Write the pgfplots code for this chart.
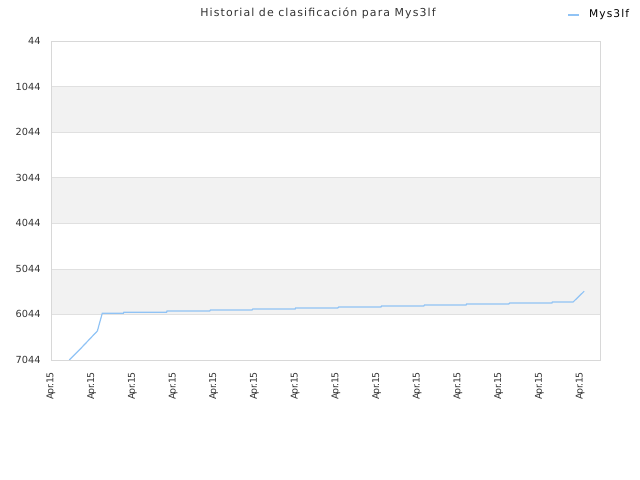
\documentclass[border=0pt]{standalone}
\usepackage{pgfplots}
\pgfplotsset{compat=1.18}
\usepackage{fontspec}
\setmainfont{DejaVu Sans}
\newfontfamily\spaced[LetterSpace=10]{DejaVu Sans}
\newfontfamily\tight[LetterSpace=-6]{DejaVu Sans}
\definecolor{rankline}{RGB}{144,195,245}
\definecolor{band}{RGB}{242,242,242}
\definecolor{gridc}{RGB}{224,224,224}
\definecolor{frame}{RGB}{216,216,216}
\definecolor{txt}{RGB}{51,51,51}
\begin{document}
\begin{tikzpicture}
\begin{axis}[
    set layers,
    scale only axis,
    width=549bp, height=319bp,
    at={(51bp,120bp)}, anchor=south west,
    xmin=0, xmax=13.49,
    ymin=44, ymax=7044,
    y dir=reverse,
    ytick={44,1044,2044,3044,4044,5044,6044,7044},
    xtick={0,...,13},
    xticklabels={Apr.15,Apr.15,Apr.15,Apr.15,Apr.15,Apr.15,Apr.15,Apr.15,Apr.15,Apr.15,Apr.15,Apr.15,Apr.15,Apr.15},
    x tick label style={rotate=90, anchor=east, font=\fontsize{9.4}{11}\selectfont\tight, text=txt},
    y tick label style={font=\fontsize{9.8}{11}\selectfont, text=txt},
    xticklabel shift=9bp,
    yticklabel shift=7bp,
    /pgf/number format/assume math mode=true,
    yticklabel={\pgfmathprintnumber[fixed,1000 sep={}]{\tick}},
    major tick length=0pt,
    ymajorgrids,
    grid style={draw=gridc, line width=0.6pt},
    axis line style={draw=frame, line width=0.8pt},
]
\begin{pgfonlayer}{axis background}
\fill[band] (axis cs:0,1044) rectangle (axis cs:13.49,2044);
\fill[band] (axis cs:0,3044) rectangle (axis cs:13.49,4044);
\fill[band] (axis cs:0,5044) rectangle (axis cs:13.49,6044);
\end{pgfonlayer}
\addplot[rankline, line width=1.2pt, mark=none] coordinates {
(0.45,7044) (0.75,6773) (1.14,6407) (1.18,6275) (1.26,6018) (1.78,6018)
(1.79,5996) (2.84,5996) (2.85,5968) (3.90,5968) (3.92,5946) (4.94,5946)
(4.96,5924) (6.00,5924) (6.01,5902) (7.05,5902) (7.07,5880) (8.11,5880)
(8.12,5858) (9.16,5858) (9.18,5836) (10.20,5836) (10.21,5814) (11.25,5814)
(11.27,5792) (12.31,5792) (12.32,5770) (12.83,5770) (13.10,5536)
};
\end{axis}
\path (0,0) rectangle (640bp,480bp);
\node[text=txt, font=\fontsize{11}{13}\selectfont\spaced] at (318bp,467bp) {Historial de clasificación para Mys3lf};
\draw[rankline, line width=1.2pt] (568bp,465bp) -- (579bp,465bp);
\node[anchor=west, font=\fontsize{10.7}{12}\selectfont\spaced, inner sep=0pt] at (589bp,465bp) {Mys3lf};
\end{tikzpicture}
\end{document}
